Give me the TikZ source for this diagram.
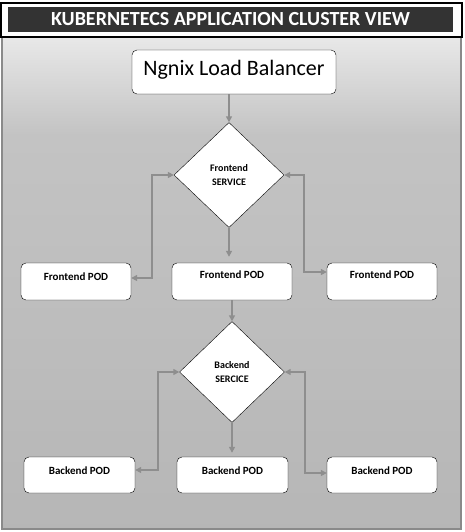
\documentclass[tikz,border=0pt]{standalone}
\usepackage{fontspec}
\setmainfont{Carlito}
\usetikzlibrary{arrows.meta,shapes.geometric}

\definecolor{titlegrey}{HTML}{333333}
\definecolor{panelline}{HTML}{8A8A8A}
\definecolor{arrowgrey}{HTML}{8E8E8E}

\tikzset{
  box/.style={draw=black, fill=white, rounded corners=5pt, inner sep=0pt},
  pod/.style={box, font=\bfseries\fontsize{11}{13}\selectfont, text height=15pt, text depth=22pt},
  bpod/.style={pod, text height=17pt, text depth=19pt},
  svc/.style={shape=diamond, draw=black, fill=white, inner sep=0pt, align=center,
    font=\bfseries\fontsize{10}{14}\selectfont},
  tip/.tip={Triangle[length=6pt,width=6pt]},
  link/.style={draw=arrowgrey, line width=1.8pt, -tip},
  twoway/.style={draw=arrowgrey, line width=1.8pt, tip-tip},
}

\begin{document}
\begin{tikzpicture}[x=1pt,y=-1pt]
    \useasboundingbox (0,0) rectangle (464,532);
    % panel background
    \shade[top color=gray!18, bottom color=gray!47] (2,37) rectangle (461,135);
    \shade[top color=gray!47, bottom color=gray!57] (2,135) rectangle (461,529);
    \draw[panelline, line width=1.5pt] (2,37) rectangle (461,529);
    % title bar
    \draw[fill=white, line width=1.2pt] (1,3) rectangle (462,37);
    \node[fill=titlegrey, text=white, minimum width=445pt, minimum height=25pt, inner sep=0pt,
      font=\bfseries\fontsize{20}{24}\selectfont] (title) at (230.5,19.5) {KUBERNETECS APPLICATION CLUSTER VIEW};

    \node[box, minimum width=204pt, text height=26pt, text depth=18pt,
      font=\fontsize{22}{26}\selectfont] (lb) at (234,72) {Ngnix Load Balancer};

    \node[svc, minimum width=110pt, minimum height=105pt] (fsvc) at (229,175) {Frontend\\SERVICE};
    \node[pod, minimum width=110pt, text height=17pt, text depth=20pt] (fpod1) at (76,281.5) {Frontend POD};
    \node[pod, minimum width=120pt] (fpod2) at (232,281.5) {Frontend POD};
    \node[pod, minimum width=110pt] (fpod3) at (382,281.5) {Frontend POD};

    \node[svc, minimum width=105pt, minimum height=101pt] (bsvc) at (232,372) {Backend\\SERCICE};
    \node[bpod, minimum width=111pt] (bpod1) at (79.5,475) {Backend POD};
    \node[bpod, minimum width=111pt] (bpod2) at (232.5,475) {Backend POD};
    \node[bpod, minimum width=110pt] (bpod3) at (382,475) {Backend POD};

    \draw [link] (lb.south -| fsvc.north) -- (fsvc.north);
    \draw [link, shorten >=6pt] (fsvc.south) -- (fsvc.south |- fpod2.north);
    \draw [link] (fpod2.south) -- (bsvc.north);
    \draw [link, shorten >=4pt] (bsvc.south) -- (bsvc.south |- bpod2.north);

    \draw [twoway] (fsvc.west) -- ++(-22,0) |- ([yshift=3.5pt]fpod1.east);
    \draw [twoway] (fsvc.east) -- ++(20,0) |- ([yshift=9.5pt]fpod3.west);
    \draw [twoway] (bsvc.west) -- ++(-21,0) |- ([yshift=5pt]bpod1.east);
    \draw [twoway] (bsvc.east) -- ++(20,0) |- ([yshift=2pt]bpod3.west);
\end{tikzpicture}
\end{document}
